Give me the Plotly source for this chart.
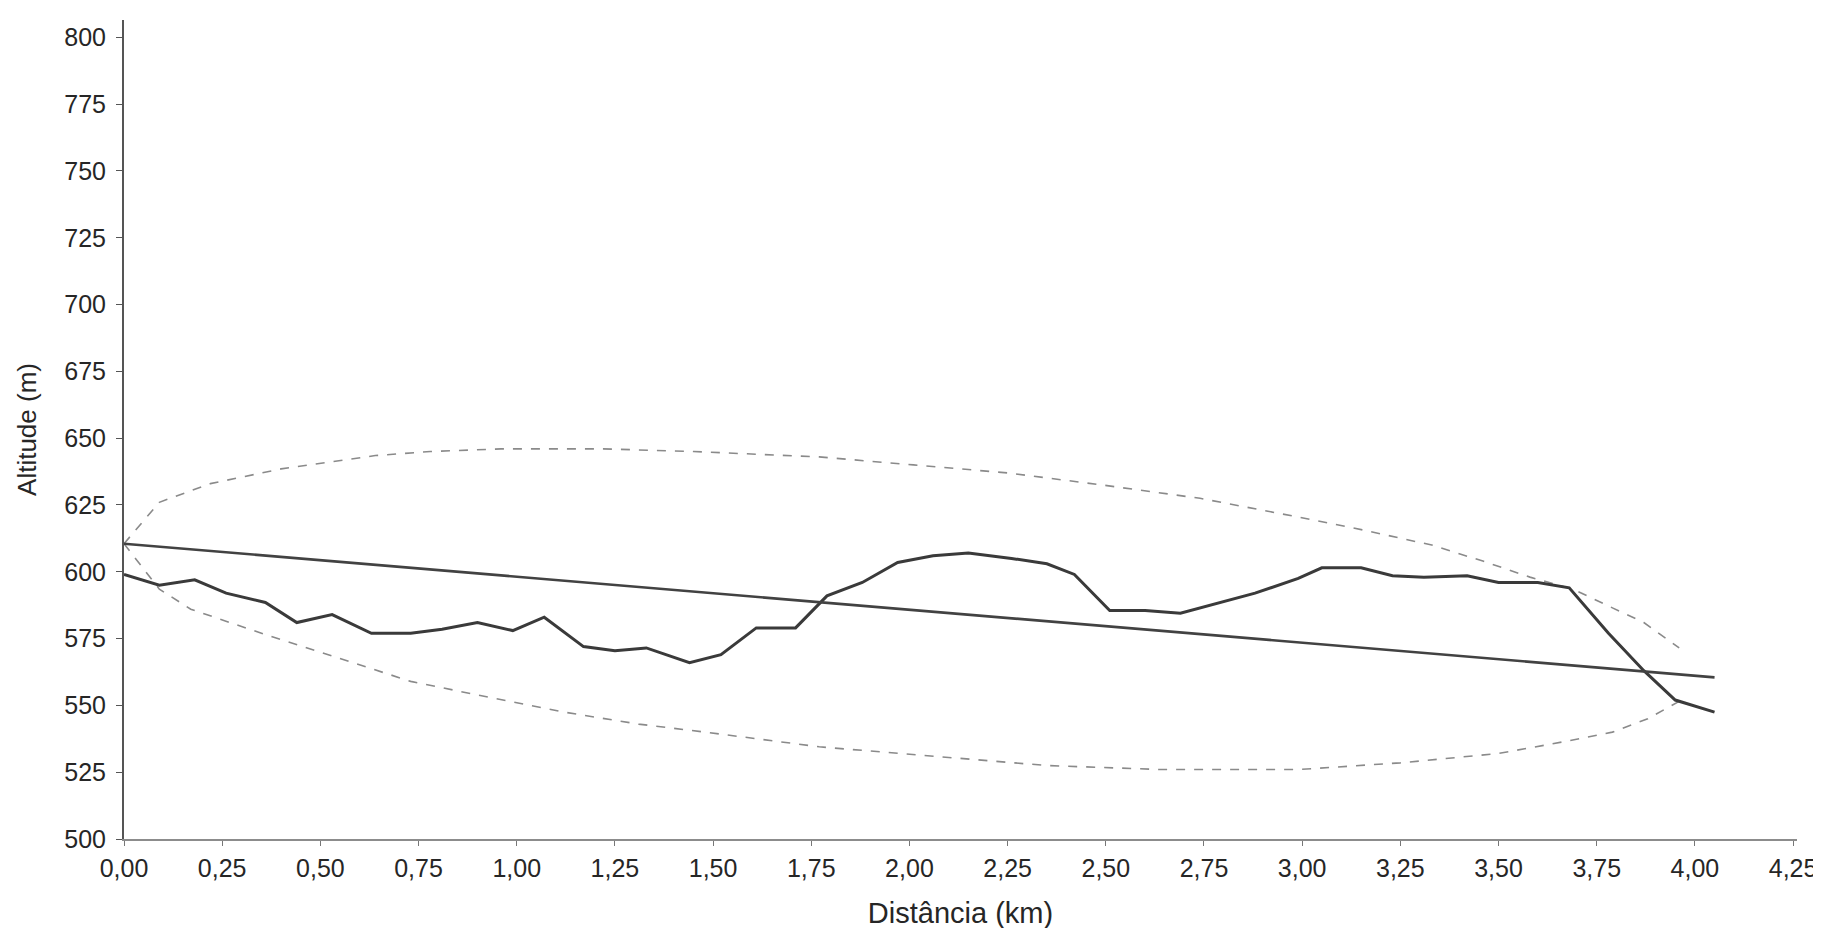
import plotly.graph_objects as go

# -----------------------------
# Data read from the profile
# -----------------------------
terrain_km = [0.00, 0.09, 0.18, 0.26, 0.36, 0.44, 0.53, 0.63, 0.73, 0.81,
              0.90, 0.99, 1.07, 1.17, 1.25, 1.33, 1.44, 1.52, 1.61, 1.71,
              1.79, 1.88, 1.97, 2.06, 2.15, 2.26, 2.35, 2.42, 2.51, 2.60,
              2.69, 2.78, 2.88, 2.99, 3.05, 3.15, 3.23, 3.31, 3.42, 3.50,
              3.60, 3.68, 3.78, 3.87, 3.95, 4.05]
terrain_alt = [599, 595, 597, 592, 588.5, 581, 584, 577, 577, 578.5,
               581, 578, 583, 572, 570.5, 571.5, 566, 569, 579, 579,
               591, 596, 603.5, 606, 607, 605, 603, 599, 585.5, 585.5,
               584.5, 588, 592, 597.5, 601.5, 601.5, 598.5, 598, 598.5, 596,
               596, 594, 577, 563, 552, 547.5]

los_km = [0.00, 4.05]
los_alt = [610.5, 560.5]

upper_km = [0.00, 0.09, 0.22, 0.40, 0.64, 0.78, 0.96, 1.22, 1.45, 1.77,
            2.01, 2.25, 2.49, 2.74, 2.99, 3.16, 3.33, 3.46, 3.58, 3.69,
            3.79, 3.87, 3.96]
upper_alt = [610.5, 626, 633, 638.5, 643.5, 645, 646, 646, 645, 643,
             640, 637, 632.5, 627.5, 620.5, 615.5, 610, 604, 598, 593.5,
             586.5, 581, 571.5]

lower_km = [0.00, 0.09, 0.17, 0.35, 0.54, 0.73, 0.93, 1.12, 1.31, 1.48,
            1.77, 2.06, 2.35, 2.64, 2.99, 3.25, 3.50, 3.67, 3.79, 3.88,
            3.96]
lower_alt = [610.5, 593.5, 586, 577, 568, 559, 553, 547.5, 543, 540,
             534.5, 531, 527.5, 526, 526, 528.5, 532, 536.5, 540, 545,
             551.5]

FONT = "Liberation Sans, Arial, sans-serif"
TEXT = "#262626"

fig = go.Figure()

# =====================================================
# Fresnel ellipse (dashed)
# =====================================================
for xs, ys in [(upper_km, upper_alt), (lower_km, lower_alt)]:
    fig.add_trace(
        go.Scatter(
            x=xs,
            y=ys,
            mode="lines",
            line=dict(color="#8a8a8a", width=1.6, dash="dash"),
            showlegend=False,
        )
    )

# =====================================================
# Terrain profile and line of sight
# =====================================================
fig.add_trace(
    go.Scatter(
        x=terrain_km,
        y=terrain_alt,
        mode="lines",
        line=dict(color="#3a3a3a", width=3),
        showlegend=False,
    )
)

fig.add_trace(
    go.Scatter(
        x=los_km,
        y=los_alt,
        mode="lines",
        line=dict(color="#424242", width=2.6),
        showlegend=False,
    )
)

# =====================================================
# Layout
# =====================================================
fig.update_layout(
    width=1821,
    height=928,
    paper_bgcolor="white",
    plot_bgcolor="white",
    separators=",.",
    margin=dict(l=116, r=22, t=12, b=90),
    font=dict(family=FONT, color=TEXT),
    xaxis=dict(
        range=[0, 4.26],
        tick0=0,
        dtick=0.25,
        tickformat=".2f",
        showgrid=False,
        zeroline=False,
        showline=True,
        linecolor="#8c8c8c",
        linewidth=1.6,
        ticks="outside",
        ticklen=5,
        tickcolor="#777777",
        ticklabelstandoff=1,
        tickfont=dict(size=25, color=TEXT),
        title=dict(text="Distância (km)", font=dict(size=29, color=TEXT), standoff=22),
    ),
    yaxis=dict(
        range=[500, 806.5],
        tick0=500,
        dtick=25,
        showgrid=False,
        zeroline=False,
        showline=True,
        linecolor="#555555",
        linewidth=2,
        ticks="outside",
        ticklen=6,
        tickcolor="#555555",
        ticklabelstandoff=5,
        tickfont=dict(size=25, color=TEXT),
        title=dict(text="Altitude (m)", font=dict(size=26, color=TEXT), standoff=20),
    ),
)

fig.write_html("out.html")
